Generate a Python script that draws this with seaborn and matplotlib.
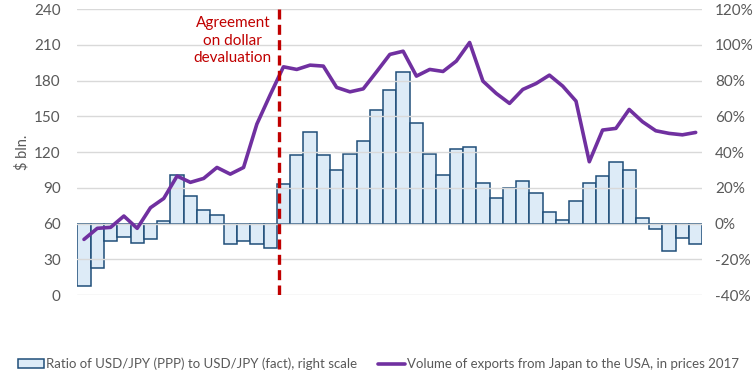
import numpy as np
import pandas as pd
import seaborn as sns
import matplotlib.pyplot as plt
from matplotlib.patches import Patch
from matplotlib.lines import Line2D
from matplotlib.ticker import FuncFormatter

years = list(range(1971, 2018))

# ratio of USD/JPY (PPP) to USD/JPY (fact), right scale, %
ratio_pct = [-35, -24.6, -10, -7.5, -10.8, -8.6, 1.5, 26.9, 15.5, 7.6,
             4.9, -11.4, -9.5, -11.4, -13.6, 22.2, 38.4, 51.3, 38.4, 30,
             39, 46.3, 63.8, 74.8, 84.9, 56.3, 39, 27.2, 41.8, 43.1,
             22.8, 14.4, 20, 23.9, 17.2, 6.5, 2, 12.7, 22.8, 26.7,
             34.5, 30, 3.2, -3, -15.3, -8, -11.4]

# exports from Japan to the USA, $ bln, prices 2017
exports = [46.7, 56, 56.8, 66.3, 56, 73.3, 81.1, 99.9, 94.6, 97.9,
           107.1, 101.5, 107.1, 143.5, 168, 191.6, 189.4, 193, 192.2, 174.3,
           170.6, 173.1, 187.4, 202, 204.7, 183.8, 189.4, 187.7, 196.4, 212,
           179.6, 169.3, 160.9, 172.6, 177.6, 184.6, 175.4, 162.8, 111.9, 138.5,
           139.9, 155.8, 145.5, 137.9, 135.7, 134.5, 136.5]

left_ticks = [0, 30, 60, 90, 120, 150, 180, 210, 240]
right_ticks = [-40, -20, 0, 20, 40, 60, 80, 100, 120]

df = pd.DataFrame({
    "year": [str(y) for y in years],
    "pos": np.arange(len(years)),
    "ratio": [v / 100 for v in ratio_pct],
    "exports": exports,
})

sns.set_theme(style="white")
plt.rcParams["font.family"] = ["Lato", "DejaVu Sans"]

grey = "#595959"
bar_fill = "#DDEBF7"
bar_edge = "#1F4E79"
purple = "#7030A0"
red = "#C00000"

fig, ax = plt.subplots(figsize=(7.56, 3.82), dpi=100)
fig.subplots_adjust(left=0.1023, right=0.929, top=0.976, bottom=0.2277)
ax2 = ax.twinx()

# bars on right scale
sns.barplot(data=df, x="year", y="ratio", ax=ax2, color=bar_fill,
            edgecolor=bar_edge, linewidth=1.1, width=1.0, saturation=1)

# line on left scale, drawn above the bars
sns.lineplot(data=df, x="pos", y="exports", ax=ax, color=purple, linewidth=2.6)
ax.set_zorder(ax2.get_zorder() + 1)
ax.patch.set_visible(False)

ax.set_xlim(-0.5, len(years) - 0.5)
ax2.set_xlim(-0.5, len(years) - 0.5)
ax.set_ylim(0, 240)
ax2.set_ylim(-0.4, 1.2)
ax.set_yticks(left_ticks)
ax2.set_yticks([t / 100 for t in right_ticks])
ax2.yaxis.set_major_formatter(FuncFormatter(lambda v, p: f"{v * 100:.0f}%"))

ax.yaxis.grid(True, color="#D9D9D9", linewidth=1)
ax.set_axisbelow(True)
ax2.grid(False)

ax.set_xticks(df["pos"][::2])
ax.set_xticklabels(df["year"][::2], rotation=90)
ax2.set_xticks([])

for a in (ax, ax2):
    for s in a.spines.values():
        s.set_visible(False)
    a.tick_params(axis="both", length=0, labelsize=11, labelcolor=grey)
ax.tick_params(axis="x", labelsize=10, pad=4)
ax.tick_params(axis="y", pad=12)
ax2.tick_params(axis="y", pad=9)

ax.set_xlabel("")
ax.set_ylabel("$ bln.", color=grey, fontsize=10.5, labelpad=3)
ax2.set_ylabel("")

# devaluation agreement marker
ax.plot([14.66, 14.66], [0, 240], color=red, linewidth=2.4,
        linestyle=(0, (3, 1.6)), zorder=5)
ax.text(11.2, 234, "Agreement\non dollar\ndevaluation", color=red, fontsize=11,
        ha="center", va="top", linespacing=1.3)

handles = [Patch(facecolor=bar_fill, edgecolor=bar_edge, linewidth=1.1),
           Line2D([0], [0], color=purple, linewidth=2.6)]
labels = ["Ratio of USD/JPY (PPP) to USD/JPY (fact), right scale",
          "Volume of exports from Japan to the USA, in prices 2017"]
fig.legend(handles, labels, loc="lower center", bbox_to_anchor=(0.5, 0.0),
           ncol=2, frameon=False, fontsize=9.5, labelcolor=grey,
           handlelength=2.0, handleheight=0.6, handletextpad=0.15,
           columnspacing=1.6)

fig.savefig("out.png", dpi=100)
